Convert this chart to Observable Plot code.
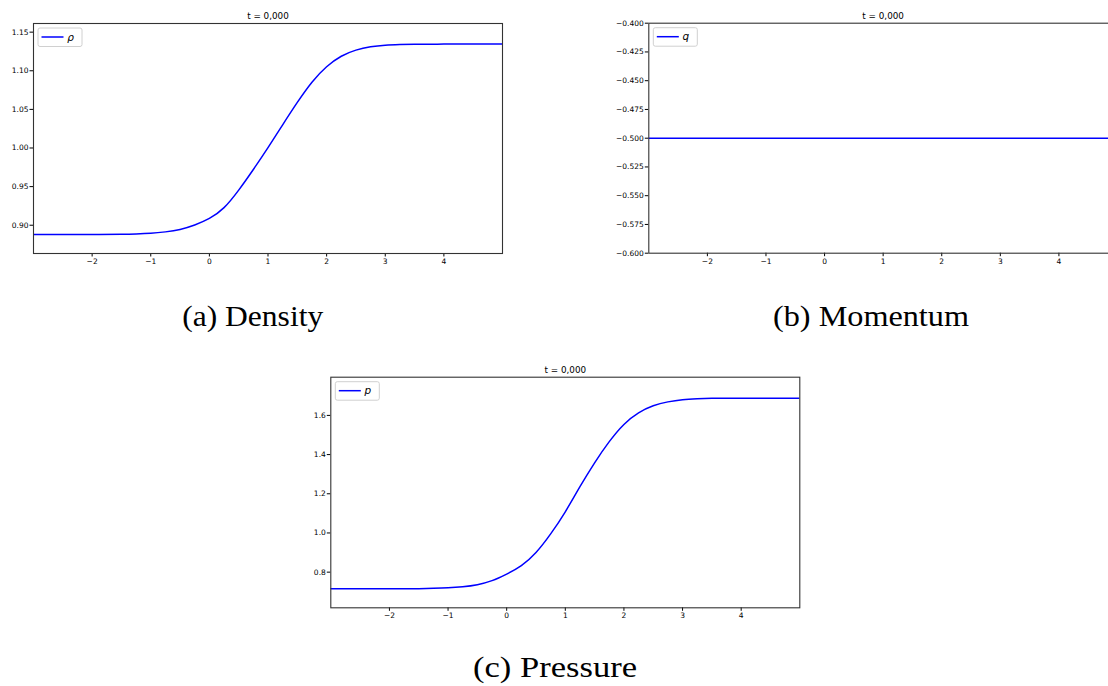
<!DOCTYPE html>
<html>
<head>
<meta charset="utf-8">
<script src="https://cdn.jsdelivr.net/npm/d3@7"></script>
<script src="https://cdn.jsdelivr.net/npm/@observablehq/plot@0.6"></script>
<style>
  html, body { margin: 0; padding: 0; background: #fff; }
  body { width: 1108px; height: 686px; overflow: hidden; position: relative; }
  .panel { position: absolute; }
  .panel svg { max-width: none !important; height: auto; }
  #captions { position: absolute; left: 0; top: 0; }
</style>
</head>
<body>
<div id="pa" class="panel" style="left:0px;top:0px;width:520px"></div>
<div id="pb" class="panel" style="left:590px;top:0px;width:540px"></div>
<div id="pc" class="panel" style="left:290px;top:360px;width:520px"></div>
<svg id="captions" width="1108" height="686"></svg>
<script>
// ---- data ----
const xs = [-3, -2.5, -2, -1.5, -1.25, -1, -0.75, -0.5, -0.25, 0, 0.25, 0.5, 0.75, 1, 1.25, 1.5, 1.75, 2, 2.25, 2.5, 2.75, 3, 3.25, 3.5, 4, 4.5, 5];
const density = [0.8880, 0.8880, 0.8880, 0.8882, 0.8886, 0.8895, 0.8914, 0.8946, 0.9004, 0.9088, 0.9228, 0.9455, 0.9722, 1.0005, 1.0300, 1.0590, 1.0852, 1.1052, 1.1188, 1.1267, 1.1310, 1.1331, 1.1340, 1.1344, 1.1345, 1.1345, 1.1345];
const pressure = [0.7150, 0.7150, 0.7151, 0.7158, 0.7172, 0.7200, 0.7255, 0.7360, 0.7565, 0.7900, 0.8330, 0.9000, 0.9950, 1.1080, 1.2360, 1.3580, 1.4660, 1.5540, 1.6130, 1.6490, 1.6690, 1.6800, 1.6848, 1.6870, 1.6880, 1.6880, 1.6880];
const momentumX = [-3, 5];
const momentum = [-0.5, -0.5];

const xTicks = [-2, -1, 0, 1, 2, 3, 4];
const densityTicks = [0.90, 0.95, 1.00, 1.05, 1.10, 1.15];
const momentumTicks = [-0.600, -0.575, -0.550, -0.525, -0.500, -0.475, -0.450, -0.425, -0.400];
const pressureTicks = [0.8, 1.0, 1.2, 1.4, 1.6];

const titleText = "t = 0,000";
const captions = ["(a) Density", "(b) Momentum", "(c) Pressure"];
const legendLabels = ["ρ", "q", "p"];

const densityData = xs.map((x, i) => ({x, y: density[i]}));
const pressureData = xs.map((x, i) => ({x, y: pressure[i]}));
const momentumData = momentumX.map((x, i) => ({x, y: momentum[i]}));

const fmtX = d3.format("d");

function panel(opts) {
  const {data, yDomain, yTicks, yFormat, width, height, ml, mr, mt, mb, label} = opts;
  const svg = Plot.plot({
    width, height,
    marginLeft: ml, marginRight: mr, marginTop: mt, marginBottom: mb,
    x: {domain: [-3, 5]},
    y: {domain: yDomain},
    style: {fontFamily: "DejaVu Sans", background: "white", color: "#000", maxWidth: "none"},
    marks: [
      Plot.axisX({ticks: xTicks, tickFormat: fmtX, tickSize: 3.5, tickPadding: 1.5, fontSize: 7.5, label: null}),
      Plot.axisY({ticks: yTicks, tickFormat: yFormat, tickSize: 3.5, tickPadding: 1.5, fontSize: 7.5, label: null}),
      Plot.line(data, {x: "x", y: "y", stroke: "#0000ff", strokeWidth: 1.5, curve: "natural", clip: true}),
      Plot.frame({stroke: "#333", strokeWidth: 1.1}),
      Plot.text([titleText], {text: d => d, frameAnchor: "top", dy: -10.5, fontSize: 8.8, fill: "#000"})
    ]
  });
  // legend box (matplotlib style, upper left)
  const g = d3.select(svg).append("g").attr("transform", `translate(${ml + 5},${mt + 5})`);
  g.append("rect").attr("x", 0).attr("y", 0).attr("width", 44).attr("height", 18.5).attr("rx", 2)
    .attr("fill", "white").attr("stroke", "#d0d0d0").attr("stroke-width", 1);
  g.append("line").attr("x1", 3.5).attr("x2", 25.5).attr("y1", 9).attr("y2", 9)
    .attr("stroke", "#0000ff").attr("stroke-width", 1.5);
  g.append("text").attr("x", 32.5).attr("y", 9).attr("dy", "0.35em")
    .attr("font-family", "DejaVu Sans").attr("font-style", "italic").attr("font-size", 10.5)
    .attr("fill", "#000").text(label);
  return svg;
}

document.getElementById("pa").appendChild(panel({
  data: densityData, yDomain: [0.8634, 1.1612], yTicks: densityTicks, yFormat: d3.format(".2f"),
  width: 520, height: 275, ml: 33, mr: 18, mt: 23, mb: 22, label: legendLabels[0]
}));
document.getElementById("pb").appendChild(panel({
  data: momentumData, yDomain: [-0.6, -0.4], yTicks: momentumTicks, yFormat: d3.format(".3f"),
  width: 540, height: 275, ml: 58.3, mr: 13, mt: 22.7, mb: 22.3, label: legendLabels[1]
}));
document.getElementById("pc").appendChild(panel({
  data: pressureData, yDomain: [0.618, 1.795], yTicks: pressureTicks, yFormat: d3.format(".1f"),
  width: 520, height: 275, ml: 40.3, mr: 10.7, mt: 16.7, mb: 27.7, label: legendLabels[2]
}));

// captions
const cap = d3.select("#captions");
const capPos = [[252.7, 326], [871, 326], [555, 677]];
const capWidth = [141, 196, 164];
captions.forEach((c, i) => {
  cap.append("text").attr("x", capPos[i][0]).attr("y", capPos[i][1])
    .attr("text-anchor", "middle").attr("font-family", "Liberation Serif").attr("font-size", 30)
    .attr("textLength", capWidth[i]).attr("lengthAdjust", "spacingAndGlyphs")
    .attr("fill", "#000").text(c);
});
</script>
</body>
</html>
